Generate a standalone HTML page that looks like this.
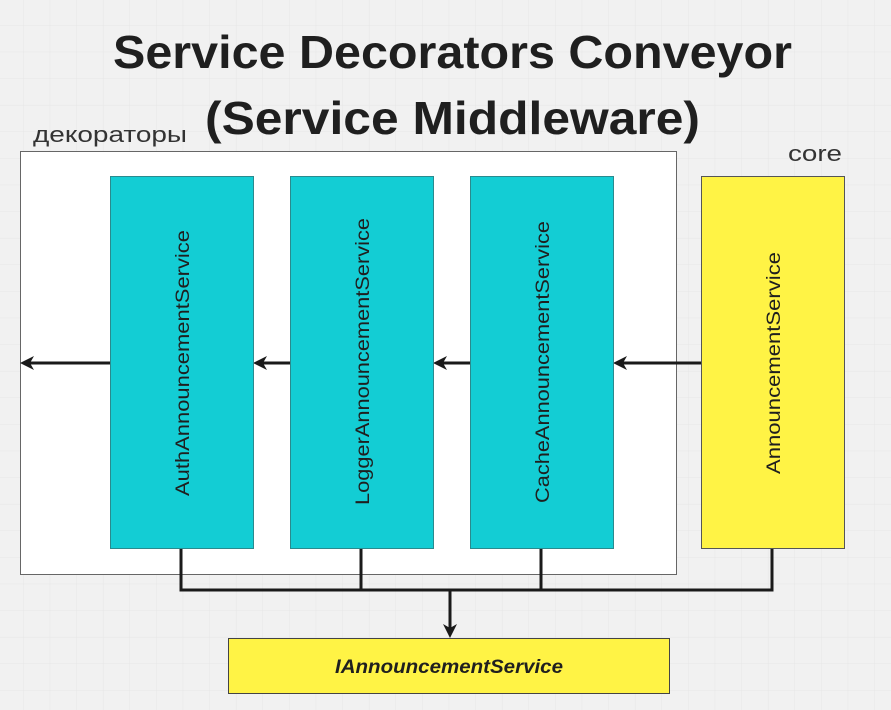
<!DOCTYPE html>
<html><head><meta charset="utf-8"><style>
html,body{margin:0;padding:0;width:891px;height:710px;overflow:hidden;background:#f1f1f1}
</style></head><body>
<svg width="891" height="710" xmlns="http://www.w3.org/2000/svg" font-family="Liberation Sans, DejaVu Sans, sans-serif">
<defs>
<pattern id="g" width="26.6" height="26.6" patternUnits="userSpaceOnUse" x="-3" y="-1">
<path d="M26.6 0V26.6M0 26.6H26.6" stroke="#e6e6e6" stroke-width="1" fill="none"/>
</pattern>
</defs>
<rect width="891" height="710" fill="url(#g)"/>
<text x="113" y="68" textLength="679" lengthAdjust="spacingAndGlyphs" font-size="46" font-weight="bold" fill="#1f1f1f">Service Decorators Conveyor</text>
<text x="205" y="134" textLength="495" lengthAdjust="spacingAndGlyphs" font-size="46" font-weight="bold" fill="#1f1f1f">(Service Middleware)</text>
<text x="33" y="142" textLength="154" lengthAdjust="spacingAndGlyphs" font-size="22" fill="#333">декораторы</text>
<text x="788" y="161" textLength="54" lengthAdjust="spacingAndGlyphs" font-size="22" fill="#333">core</text>
<rect x="20.5" y="151.5" width="656" height="423" fill="#fff" stroke="#666"/>
<g stroke="#1a1a1a" stroke-width="3" fill="none">
<path d="M181 548V590H772V548"/>
<path d="M361 548V590M541 548V590"/>
<line x1="450" y1="590" x2="450" y2="630"/>
<line x1="701" y1="363" x2="620" y2="363"/>
<line x1="470" y1="363" x2="440" y2="363"/>
<line x1="290" y1="363" x2="260" y2="363"/>
<line x1="110" y1="363" x2="26" y2="363"/>
</g>
<g fill="#1a1a1a">
<path d="M443,624 L450,638 L457,624 L450,628z"/>
<path d="M613,363 L627,356 L623,363 L627,370z"/>
<path d="M433,363 L447,356 L443,363 L447,370z"/>
<path d="M253,363 L267,356 L263,363 L267,370z"/>
<path d="M20,363 L34,356 L30,363 L34,370z"/>
</g>
<g stroke="#2a8a8e" fill="#13cdd4">
<rect x="110.5" y="176.5" width="143" height="372"/>
<rect x="290.5" y="176.5" width="143" height="372"/>
<rect x="470.5" y="176.5" width="143" height="372"/>
</g>
<rect x="701.5" y="176.5" width="143" height="372" fill="#fff345" stroke="#555"/>
<rect x="228.5" y="638.5" width="441" height="55" fill="#fff345" stroke="#444"/>
<g font-size="19" fill="#1f1f1f">
<text transform="translate(189,496) rotate(-90)" textLength="266" lengthAdjust="spacingAndGlyphs">AuthAnnouncementService</text>
<text transform="translate(369,505) rotate(-90)" textLength="287" lengthAdjust="spacingAndGlyphs">LoggerAnnouncementService</text>
<text transform="translate(549,503) rotate(-90)" textLength="282" lengthAdjust="spacingAndGlyphs">CacheAnnouncementService</text>
<text transform="translate(780,474) rotate(-90)" textLength="222" lengthAdjust="spacingAndGlyphs">AnnouncementService</text>
</g>
<text x="335" y="673" textLength="228" lengthAdjust="spacingAndGlyphs" font-size="19" font-weight="bold" font-style="italic" fill="#1f1f1f">IAnnouncementService</text>
</svg>
</body></html>
